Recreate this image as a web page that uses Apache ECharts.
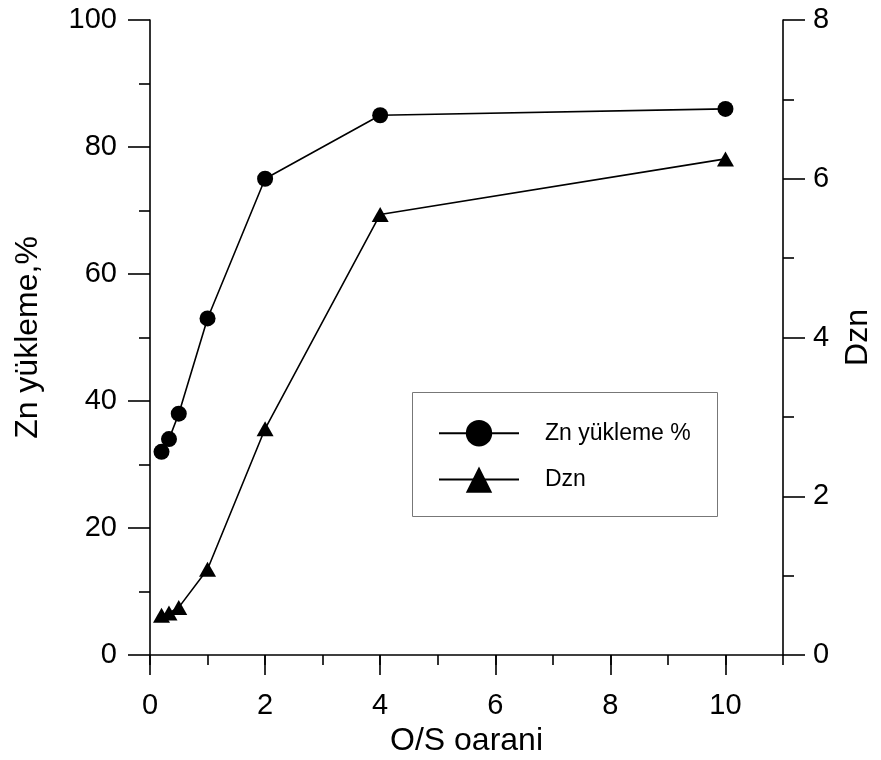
<!DOCTYPE html>
<html>
<head>
<meta charset="utf-8">
<script src="https://cdn.jsdelivr.net/npm/echarts@6/dist/echarts.min.js"></script>
<style>
  html, body { margin: 0; padding: 0; background: #fff; }
  #chart { width: 881px; height: 760px; }
</style>
</head>
<body>
<div id="chart"></div>
<script>
// O/S ratio values (x positions)
var osRatio = [0.2, 0.33, 0.5, 1, 2, 4, 10];
// Zn loading, % (left axis)
var znLoading = [32, 34, 38, 53, 75, 85, 86];
// Distribution coefficient Dzn (right axis)
var dznValues = [0.5, 0.53, 0.6, 1.08, 2.85, 5.55, 6.25];

var xMajorTicks = [0, 2, 4, 6, 8, 10];
var xMinorTicks = [0, 1, 2, 3, 4, 5, 6, 7, 8, 9, 10, 11];

var seriesNames = ['Zn yükleme %', 'Dzn'];
var axisNames = { x: 'O/S oarani', left: 'Zn yükleme,%', right: 'Dzn' };

function pairs(xs, ys) {
  return xs.map(function (x, i) { return [x, ys[i]]; });
}

var FONT = 'Liberation Sans, Arial, sans-serif';
var INK = '#000';
var LW = 1.6;

var chart = echarts.init(document.getElementById('chart'), null, { renderer: 'canvas' });

var labelStyle = { color: INK, fontSize: 29, fontFamily: FONT };
var titleStyle = { color: INK, fontSize: 32, fontFamily: FONT };

chart.setOption({
  animation: false,
  backgroundColor: '#fff',
  grid: { left: 150, right: 98, top: 20, bottom: 105, outerBoundsMode: 'none', containLabel: false },
  xAxis: [
    {
      type: 'value', min: 0, max: 11,
      name: axisNames.x, nameLocation: 'middle', nameGap: 69,
      nameTextStyle: titleStyle,
      axisLine: { show: true, onZero: false, lineStyle: { color: INK, width: LW } },
      axisTick: { show: true, inside: false, length: 20, customValues: xMajorTicks, lineStyle: { color: INK, width: LW } },
      axisLabel: { show: true, margin: 36, customValues: xMajorTicks, ...labelStyle },
      splitLine: { show: false }
    },
    {
      type: 'value', min: 0, max: 11, position: 'bottom',
      axisLine: { show: false },
      axisTick: { show: true, inside: false, length: 10, customValues: xMinorTicks, lineStyle: { color: INK, width: LW } },
      axisLabel: { show: false },
      splitLine: { show: false }
    }
  ],
  yAxis: [
    {
      type: 'value', min: 0, max: 100, interval: 20, position: 'left',
      name: axisNames.left, nameLocation: 'middle', nameGap: 106, nameRotate: 90,
      nameTextStyle: titleStyle,
      axisLine: { show: true, onZero: false, lineStyle: { color: INK, width: LW } },
      axisTick: { show: true, inside: false, length: 22, lineStyle: { color: INK, width: LW } },
      minorTick: { show: true, splitNumber: 2, length: 11, lineStyle: { color: INK, width: LW } },
      axisLabel: { margin: 33, ...labelStyle },
      splitLine: { show: false }
    },
    {
      type: 'value', min: 0, max: 8, interval: 2, position: 'right',
      name: axisNames.right, nameLocation: 'middle', nameGap: 59, nameRotate: 90,
      nameTextStyle: titleStyle,
      axisLine: { show: true, onZero: false, lineStyle: { color: INK, width: LW } },
      axisTick: { show: true, inside: false, length: 22, lineStyle: { color: INK, width: LW } },
      minorTick: { show: true, splitNumber: 2, length: 11, lineStyle: { color: INK, width: LW } },
      axisLabel: { margin: 30, ...labelStyle },
      splitLine: { show: false }
    }
  ],
  legend: {
    orient: 'vertical',
    left: 438, top: 420,
    padding: 0,
    itemWidth: 80, itemHeight: 33, itemGap: 20,
    data: seriesNames,
    textStyle: { color: INK, fontSize: 23, fontFamily: FONT, padding: [0, 0, 0, 21] }
  },
  graphic: [
    {
      type: 'rect', z: 0,
      shape: { x: 412.5, y: 392.5, width: 305, height: 124 },
      style: { fill: 'none', stroke: '#777', lineWidth: 1 }
    }
  ],
  series: [
    {
      name: seriesNames[0], type: 'line', xAxisIndex: 0, yAxisIndex: 0,
      data: pairs(osRatio, znLoading),
      symbol: 'circle', symbolSize: 16,
      itemStyle: { color: INK },
      lineStyle: { color: INK, width: LW },
      z: 3
    },
    {
      name: seriesNames[1], type: 'line', xAxisIndex: 0, yAxisIndex: 1,
      data: pairs(osRatio, dznValues),
      symbol: 'triangle', symbolSize: [17, 15],
      itemStyle: { color: INK },
      lineStyle: { color: INK, width: LW },
      z: 3
    }
  ]
});
</script>
</body>
</html>
